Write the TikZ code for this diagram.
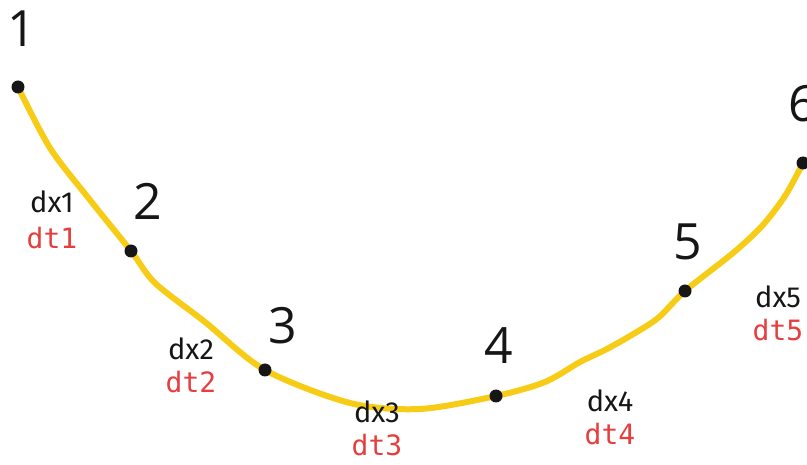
\documentclass[tikz,border=0pt]{standalone}
\usepackage{fontspec}
\newfontfamily\numfont{Open Sans}
\newfontfamily\dxfont{Fira Sans}
\newfontfamily\dtfont{DejaVu Sans Mono}
\definecolor{curveyellow}{RGB}{247,204,22}
\definecolor{dtred}{RGB}{230,62,62}
\definecolor{ink}{RGB}{22,22,22}
\begin{document}
\begin{tikzpicture}[x=1pt,y=-1pt,
  dot/.style={circle,fill=ink,inner sep=0pt,minimum size=13pt},
  num/.style={font=\numfont\fontsize{50}{50}\selectfont,text=ink,inner sep=0pt,anchor=base},
  dxl/.style={font=\dxfont\fontsize{29}{29}\selectfont,text=ink,inner sep=0pt,anchor=base},
  dtl/.style={font=\dtfont\fontsize{28}{28}\selectfont,text=dtred,inner sep=0pt,anchor=base},
  curve/.style={draw=curveyellow,line width=6pt,line cap=round,line join=round}]
\useasboundingbox (0,0) rectangle (807,465);
\coordinate (c1) at (18,87);
\coordinate (c2) at (131,251);
\coordinate (c3) at (265,370);
\coordinate (c4) at (496,396);
\coordinate (c5) at (685,291);
\coordinate (c6) at (803,163);
\draw[curve] plot[smooth,tension=0.5] coordinates {(c1) (50,148) (90,200) (c2) (155,283) (205,322) (c3) (350,403) (420,409) (c4) (545,382) (580,362) (605,350) (630,336) (658,318) (c5) (733,253) (762,226) (785,196) (c6)};
\foreach \i in {1,...,6} { \node[dot] (p\i) at (c\i) {}; }
\node[num] (n1) at (22,47) {1};
\node[num] (n2) at (148,220) {2};
\node[num] (n3) at (283,344) {3};
\node[num] (n4) at (499,364) {4};
\node[num] (n5) at (688,260) {5};
\node[num] (n6) at (803,122) {6};
\node[dxl] (dx1) at (52,213) {dx1};
\node[dtl] (dt1) at (52,249) {dt1};
\node[dxl] (dx2) at (191,360) {dx2};
\node[dtl] (dt2) at (191,392) {dt2};
\node[dxl] (dx3) at (377,423) {dx3};
\node[dtl] (dt3) at (377,456) {dt3};
\node[dxl] (dx4) at (610,412) {dx4};
\node[dtl] (dt4) at (610,444) {dt4};
\node[dxl] (dx5) at (778,308) {dx5};
\node[dtl] (dt5) at (778,341) {dt5};
\end{tikzpicture}
\end{document}
